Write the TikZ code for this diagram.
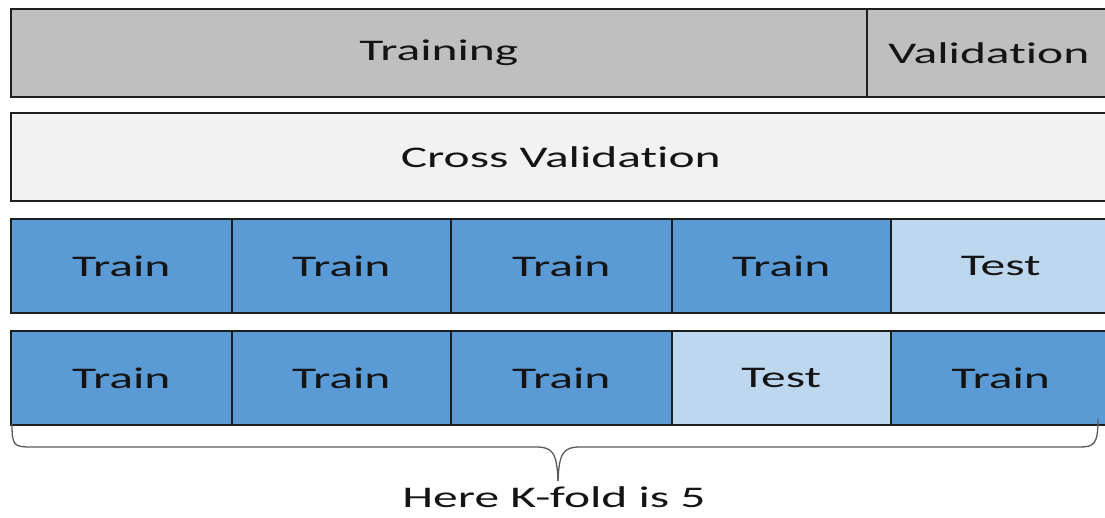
\documentclass[tikz,border=0pt]{standalone}
\usepackage{fontspec}
\newfontfamily\lblfont[FakeStretch=1.65,Ligatures=NoCommon]{Carlito}
\definecolor{edge}{HTML}{1E1E1E}
\definecolor{ink}{HTML}{141414}
\definecolor{graybar}{HTML}{BFBFBF}
\definecolor{cvbar}{HTML}{F2F2F2}
\definecolor{trainblue}{HTML}{5B9BD5}
\definecolor{testblue}{HTML}{BDD7EE}
\definecolor{bracegray}{HTML}{5A5A5A}
\begin{document}
\begin{tikzpicture}[x=1pt,y=-1pt,
  cell/.style={draw=edge, line width=1.6pt, inner sep=0pt, anchor=north west,
    font=\lblfont\fontsize{30}{32}\selectfont, text=ink},
  hdr/.style={cell, fill=graybar, minimum height=88pt},
  cvb/.style={cell, fill=cvbar, minimum height=88pt},
  trn/.style={cell, fill=trainblue, minimum height=94pt},
  tst/.style={cell, fill=testblue, minimum height=94pt},
  bracepath/.style={draw=bracegray, line width=1.3pt},
  note/.style={font=\lblfont\fontsize{30}{32}\selectfont, text=ink}]
\useasboundingbox (0,0) rectangle (1105,518);
\clip (0,0) rectangle (1105,518);

% top split: training / validation
\node[hdr, minimum width=856pt] (training) at (10,8) {Training};
\node[hdr, minimum width=244pt] (validation) at (866,8) {Validation};

% cross validation bar
\node[cvb, minimum width=1100pt] (cv) at (10,112) {Cross Validation};

% fold with test in the last slot
\node[trn, minimum width=221pt] (a1) at (10,218) {Train};
\node[trn, minimum width=219pt] (a2) at (231,218) {Train};
\node[trn, minimum width=221pt] (a3) at (450,218) {Train};
\node[trn, minimum width=219pt] (a4) at (671,218) {Train};
\node[tst, minimum width=220pt] (a5) at (890,218) {Test};

% fold with test in the fourth slot
\node[trn, minimum width=221pt] (b1) at (10,330) {Train};
\node[trn, minimum width=219pt] (b2) at (231,330) {Train};
\node[trn, minimum width=221pt] (b3) at (450,330) {Train};
\node[tst, minimum width=219pt] (b4) at (671,330) {Test};
\node[trn, minimum width=220pt] (b5) at (890,330) {Train};

% brace under the folds
\coordinate (braceL) at (12,424);
\coordinate (braceR) at (1098,419);
\coordinate (tip) at (558,481);
\draw[bracepath] (braceL) .. controls (12,446) and (14,447) .. (32,447)
  -- (536,447) .. controls (552,447) and (557,452) .. (tip);
\draw[bracepath] (braceR) .. controls (1098,444) and (1094,447) .. (1080,447)
  -- (580,447) .. controls (564,447) and (559,452) .. (tip);

\node[note] (kfold) at (554,497) {Here K-fold is 5};
\end{tikzpicture}
\end{document}
